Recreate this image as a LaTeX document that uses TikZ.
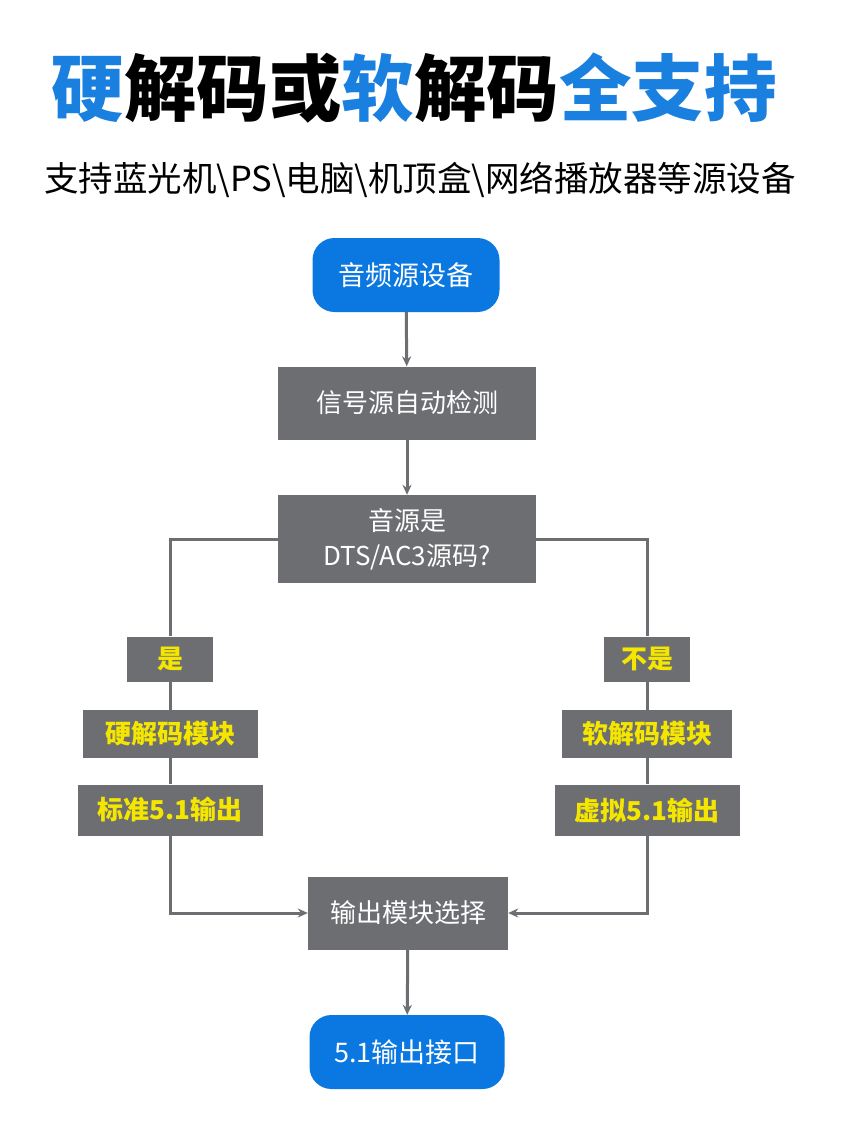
\documentclass[tikz,border=0pt]{standalone}
\usepackage{fontspec}
\setmainfont{Noto Sans CJK SC}
\usetikzlibrary{arrows.meta}
\definecolor{tblue}{HTML}{1A80E0}
\definecolor{nblue}{HTML}{0A78E0}
\definecolor{gbox}{HTML}{6D6E72}
\definecolor{ytxt}{HTML}{F5E600}
\tikzset{
 x=1pt,y=-1pt,
 rbox/.style={fill=nblue,text=white,rounded corners=22pt,minimum width=187pt,minimum height=74pt,font=\fontsize{27}{32}\selectfont},
 gboxs/.style={fill=gbox,text=white,font=\fontsize{26}{35}\selectfont,align=center},
 ybox/.style={fill=gbox,text=ytxt,minimum height=48pt,font=\fontsize{26}{30}\selectfont\bfseries},
 ln/.style={draw=gbox,line width=3pt},
 arr/.style={ln,-{Stealth[length=10pt,width=9pt]}}
}
\begin{document}
\begin{tikzpicture}
\useasboundingbox[fill=white] (0,0) rectangle (846,1129);
\node (title) at (414,88) {\fontsize{72.5}{80}\selectfont\bfseries\textcolor{tblue}{硬}解码或\textcolor{tblue}{软}解码\textcolor{tblue}{全支持}};
\node (sub) at (420,180) {\fontsize{34.5}{40}\selectfont 支持蓝光机\textbackslash PS\textbackslash 电脑\textbackslash 机顶盒\textbackslash 网络播放器等源设备};
\node[rbox] (src) at (406,275) {音频源设备};
\node[gboxs,minimum width=258pt,minimum height=73pt] (det) at (407,403) {信号源自动检测};
\node[gboxs,minimum width=258pt,minimum height=88pt] (q) at (407,539) {音源是\\DTS/AC3源码?};
\node[ybox,minimum width=86pt,minimum height=45pt] (yes) at (170,659) {是};
\node[ybox,minimum width=175pt] (hd) at (170,734) {硬解码模块};
\node[ybox,minimum width=185pt,minimum height=51pt] (s51) at (170,810) {标准5.1输出};
\node[ybox,minimum width=86pt,minimum height=45pt] (no) at (647,659) {不是};
\node[ybox,minimum width=170pt] (sd) at (647,734) {软解码模块};
\node[ybox,minimum width=185pt,minimum height=51pt] (v51) at (647,810) {虚拟5.1输出};
\node[gboxs,minimum width=200pt,minimum height=73pt] (sel) at (408,913) {输出模块选择};
\node[rbox,minimum width=195pt] (out) at (407,1052) {5.1输出接口};
\draw[arr] (src) -- (det);
\draw[arr] (det) -- (q);
\draw[ln] (q.west) -| (yes.north);
\draw[ln] (q.east) -| (no.north);
\draw[ln] (yes) -- (hd); \draw[ln] (hd) -- (s51);
\draw[ln] (no) -- (sd); \draw[ln] (sd) -- (v51);
\draw[arr] (s51.south) |- (sel.west);
\draw[arr] (v51.south) |- (sel.east);
\draw[arr] (sel) -- (out);
\end{tikzpicture}
\end{document}
